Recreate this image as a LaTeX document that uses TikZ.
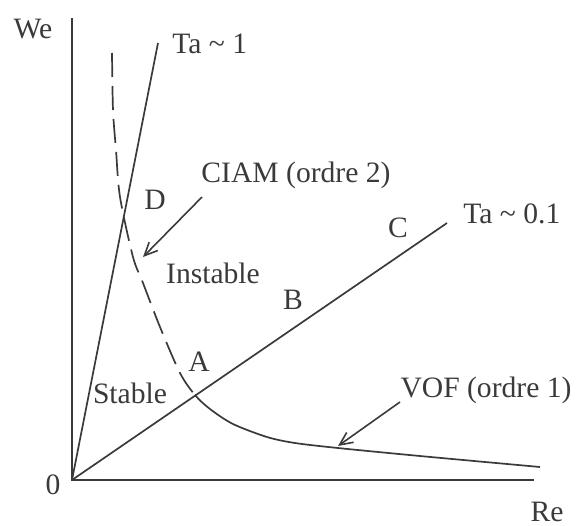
\documentclass[tikz,border=0pt]{standalone}
\usepackage{fontspec}
\setmainfont{Liberation Serif}
\usetikzlibrary{arrows.meta}
\definecolor{ink}{HTML}{3A3A3A}
\tikzset{
  lbl/.style={inner sep=0pt, text=ink, font=\fontsize{14.8}{17}\selectfont},
  ln/.style={draw=ink, line width=0.85pt},
  axis/.style={draw=ink, line width=1pt},
  ptr/.style={draw=ink, line width=0.8pt, -{Straight Barb[length=6.5pt,width=6pt]}},
  dsh/.style={draw=ink, line width=0.85pt, dash pattern=on 12pt off 4.5pt},
}
\begin{document}
\begin{tikzpicture}[x=0.5pt,y=-0.5pt]
\useasboundingbox (0,0) rectangle (577,525);
% coordinates
\coordinate (O) at (72,480);
\coordinate (ytop) at (72,18);
\coordinate (xend) at (534,480);
\coordinate (ta1) at (158,43);
\coordinate (ta01) at (447,223);
\coordinate (ciamS) at (202,197);
\coordinate (ciamT) at (143,257);
\coordinate (vofS) at (400,402);
\coordinate (vofT) at (338,446);
% axes
\draw[axis] (ytop) -- (O) -- (xend);
% lines
\draw[ln] (O) -- (ta1);
\draw[ln] (O) -- (ta01);
% curve: dashed part (left of A) and solid part (right of A)
\def\curvepath{plot[smooth, tension=0.5] coordinates {(112,53) (113,110) (116,150) (120,197) (133,257) (143,283) (160,327) (180,373) (195,395) (210,409) (233,424) (267,437) (295,443) (338,448) (420,456) (540,467)}}
\begin{scope}
  \clip (0,0) rectangle (195,525);
  \draw[dsh] \curvepath;
\end{scope}
\begin{scope}
  \clip (195,0) rectangle (577,525);
  \draw[ln] \curvepath;
\end{scope}
% pointers
\draw[ptr] (ciamS) -- (ciamT);
\draw[ptr] (vofS) -- (vofT);
% labels
\node[lbl] (we) at (33,29) {We};
\node[lbl, anchor=west] (lta1) at (172,44) {Ta \textasciitilde\ 1};
\node[lbl] (lciam) at (296,175) {CIAM (ordre 2)};
\node[lbl] (lD) at (155,200) {D};
\node[lbl] (lC) at (398,228) {C};
\node[lbl, anchor=west] (lta01) at (463,214) {Ta \textasciitilde\ 0.1};
\node[lbl] (linst) at (213,273) {Instable};
\node[lbl] (lB) at (293,300) {B};
\node[lbl] (lA) at (199,362) {A};
\node[lbl] (lstab) at (130,393) {Stable};
\node[lbl] (lvof) at (486,390) {VOF (ordre 1)};
\node[lbl] (l0) at (53,485) {0};
\node[lbl] (lre) at (547,512) {Re};
\end{tikzpicture}
\end{document}
